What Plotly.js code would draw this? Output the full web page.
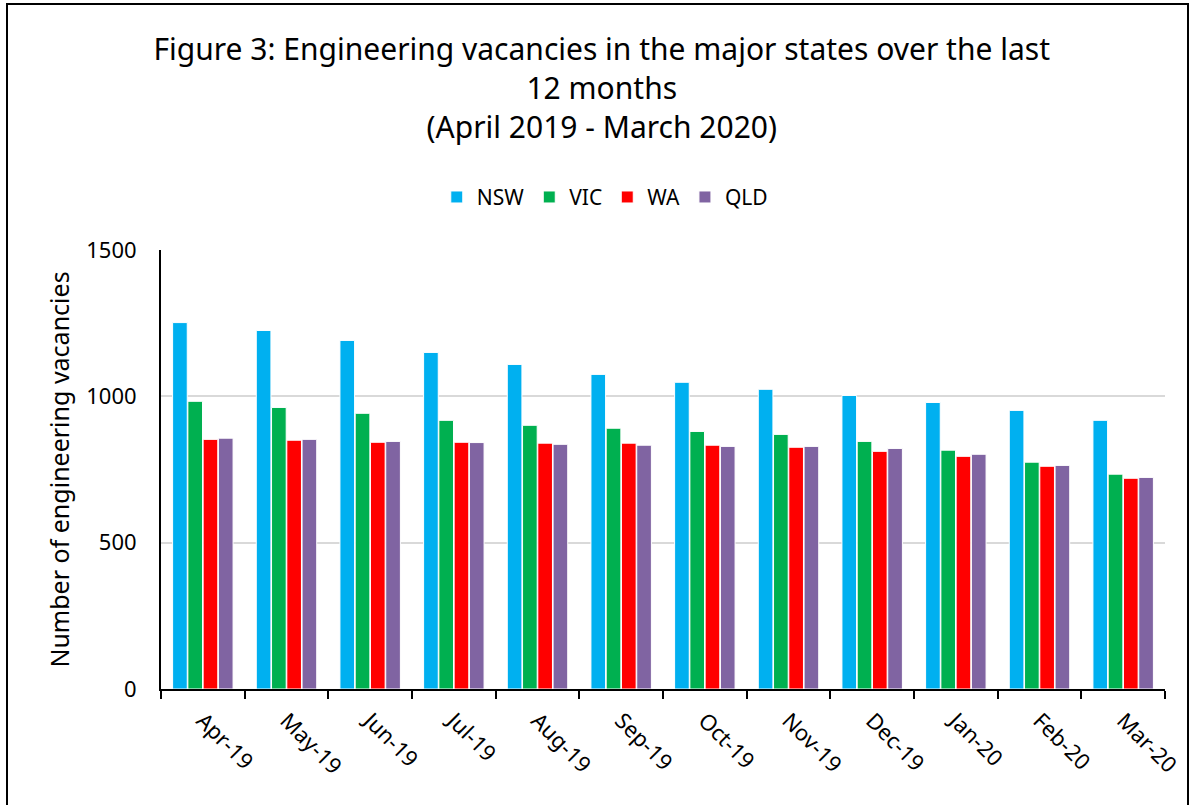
<!DOCTYPE html>
<html>
<head>
<meta charset="utf-8">
<script src="https://cdn.plot.ly/plotly-3.0.1.min.js"></script>
<style>html,body{margin:0;padding:0;background:#fff;}#chart{width:1192px;height:805px;}</style>
</head>
<body>
<div id="chart"></div>
<script>
const months = ["Apr-19","May-19","Jun-19","Jul-19","Aug-19","Sep-19","Oct-19","Nov-19","Dec-19","Jan-20","Feb-20","Mar-20"];
const nsw = [1252,1225,1191,1150,1109,1075,1048,1024,1003,979,952,918];
const vic = [983,962,942,918,901,891,880,870,846,816,775,734];
const wa  = [853,850,843,843,840,840,833,826,812,795,761,720];
const qld = [857,853,846,842,836,833,829,829,822,802,764,723];
const seriesNames = ["NSW","VIC","WA","QLD"];
const seriesColors = ["#00B0F0","#00B050","#FF0000","#8064A2"];
const seriesData = [nsw, vic, wa, qld];

const FONT = "Noto Sans, Open Sans, sans-serif";
const traces = seriesData.map((d, i) => ({
  type: "bar",
  name: seriesNames[i],
  x: months,
  y: d,
  marker: {color: seriesColors[i], line: {color: "#ffffff", width: 1}},
  hoverinfo: "x+y+name"
}));

const layout = {
  width: 1192, height: 805,
  margin: {l: 161, r: 27, t: 250, b: 116},
  paper_bgcolor: "#ffffff", plot_bgcolor: "#ffffff",
  font: {family: FONT, color: "#000000", size: 22},
  title: {
    text: "Figure 3: Engineering vacancies in the major states over the last<br>12 months<br>(April 2019 - March 2020)",
    font: {family: FONT, size: 30, color: "#000"},
    x: 0.439, xanchor: "center", xref: "paper",
    y: 1 - 60/805, yanchor: "top", yref: "container"
  },
  barmode: "group",
  bargap: 0.27,
  bargroupgap: 0.04,
  showlegend: true,
  legend: {
    orientation: "h", x: 0.442, xanchor: "center", y: 1.12, yanchor: "middle",
    font: {family: FONT, size: 21}, itemwidth: 30, traceorder: "normal"
  },
  xaxis: {
    type: "category",
    tickangle: 45,
    tickson: "boundaries",
    ticks: "outside", ticklen: 8, tickwidth: 2, tickcolor: "#000",
    ticklabelstandoff: 8,
    showline: true, linecolor: "#000", linewidth: 2,
    showgrid: false,
    tickfont: {family: FONT, size: 22}
  },
  yaxis: {
    range: [0, 1500],
    tickvals: [0, 500, 1000, 1500],
    ticktext: ["0", "500", "1000", "1500"],
    showline: true, linecolor: "#000", linewidth: 2,
    ticks: "", showgrid: true, gridcolor: "#D9D9D9", gridwidth: 2,
    zeroline: false,
    ticklabelstandoff: 18,
    tickfont: {family: FONT, size: 22},
    title: {text: "Number of engineering vacancies", font: {family: FONT, size: 25}, standoff: 10}
  },
  shapes: [{
    type: "rect", xref: "paper", yref: "paper",
    x0: (7 - 161)/1004, x1: (1188 - 161)/1004,
    y0: (689 - 815)/439, y1: (689 - 4)/439,
    line: {color: "#000", width: 2}, fillcolor: "rgba(0,0,0,0)", layer: "above"
  }]
};

Plotly.newPlot("chart", traces, layout, {displayModeBar: false, staticPlot: true});
</script>
</body>
</html>
